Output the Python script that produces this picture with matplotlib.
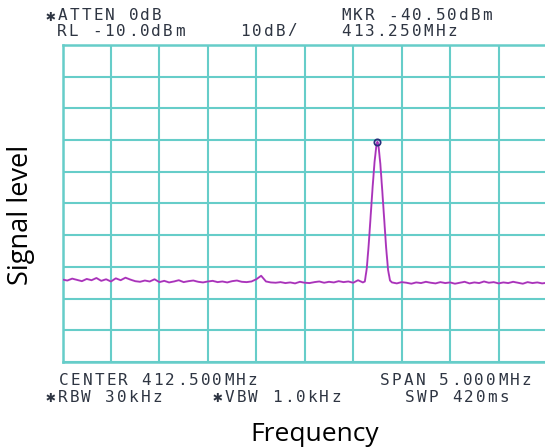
import numpy as np
import matplotlib
matplotlib.use("Agg")
import matplotlib.pyplot as plt


# display settings of the analyzer
ref_level = -10.0      # dBm, top of graticule
db_per_div = 10.0
center_mhz = 412.5
span_mhz = 5.0
marker_freq = 413.25
marker_level = -40.50

# sweep levels (dBm), 0.05 MHz steps from 410.00 to 413.10
left_levels = [
	-84.0, -84.3, -83.7, -84.1, -84.5, -83.8, -84.2, -83.5, -84.4, -83.9, -84.6,
	-83.6, -84.2, -83.4, -84.0, -84.5, -84.7, -84.3, -84.6, -83.9, -84.8,
	-84.4, -84.9, -84.6, -84.2, -84.8, -84.5, -84.3, -84.7, -84.9, -84.6,
	-84.4, -84.8, -84.6, -84.9, -84.5, -84.3, -84.7, -84.8, -84.6, -83.9,
	-82.8, -84.6, -84.9, -85.0, -84.8, -85.1, -84.9, -85.2, -84.7, -85.0,
	-85.1, -84.8, -84.6, -85.0, -84.7, -84.9, -84.5, -84.8, -84.6, -85.0, -84.2, -84.9,
]

# carrier around the marker
peak_freqs = [413.12, 413.14, 413.16, 413.18, 413.20, 413.22, 413.24, 413.25,
	413.26, 413.28, 413.30, 413.32, 413.34, 413.36, 413.38]
peak_levels = [-84.6, -80.5, -73.0, -64.0, -55.0, -47.0, -41.5, -40.5,
	-41.5, -47.5, -56.0, -65.0, -74.0, -81.0, -84.3]

# sweep levels (dBm), 0.05 MHz steps from 413.40 to 415.00
right_levels = [
	-84.9, -85.2, -84.8, -85.0, -85.3, -84.9, -85.1, -84.7, -85.0, -85.2, -84.8,
	-85.1, -84.9, -85.3, -85.0, -84.7, -85.2, -84.9, -85.1, -84.6, -85.0,
	-84.8, -85.2, -84.9, -85.1, -84.7, -85.0, -85.3, -84.8, -85.1, -84.9, -85.2, -85.0,
]

header_lines = [
	(46, 16, "\u2731ATTEN 0dB"),
	(57, 31, "RL -10.0dBm"),
	(240, 31, "10dB/"),
	(341, 16, "MKR -40.50dBm"),
	(341, 31, "413.250MHz"),
	(59, 380, "CENTER 412.500MHz"),
	(380, 380, "SPAN 5.000MHz"),
	(46, 397, "\u2731RBW 30kHz"),
	(213, 397, "\u2731VBW 1.0kHz"),
	(405, 397, "SWP 420ms"),
]

W, H = 545, 448
grid_color = "#66cdc9"
trace_color = "#bb3cc6"
text_color = "#2e3542"

fig = plt.figure(figsize=(W / 100, H / 100), dpi=100)
fig.patch.set_facecolor("white")

# graticule box in pixels: x 62.5..547, y 45..362
x0, x1, y0, y1 = 62.5, 547.0, 45.0, 362.0
ax = fig.add_axes([x0 / W, 1 - y1 / H, (x1 - x0) / W, (y1 - y0) / H])

f_lo = center_mhz - span_mhz / 2
f_hi = center_mhz + span_mhz / 2
ax.set_xlim(f_lo, f_hi)
ax.set_ylim(ref_level - 10 * db_per_div, ref_level)
ax.set_xticks(np.linspace(f_lo, f_hi, 11))
ax.set_yticks(np.linspace(ref_level - 10 * db_per_div, ref_level, 11))
ax.tick_params(length=0, labelbottom=False, labelleft=False)
ax.grid(True, color=grid_color, linewidth=1.5)
for s in ax.spines.values():
	s.set_color(grid_color)
	s.set_linewidth(1.8)

left_freqs = np.linspace(410.0, 413.1, len(left_levels))
right_freqs = np.linspace(413.4, 415.0, len(right_levels))
freqs = np.concatenate([left_freqs, peak_freqs, right_freqs])
levels = np.concatenate([left_levels, peak_levels, right_levels])

ax.plot(freqs, levels, color=trace_color, linewidth=1.4, zorder=3)
ax.plot(freqs, levels, color="#5a2a8a", linewidth=0.4, alpha=0.45, zorder=4)
ax.plot([marker_freq], [marker_level], marker="o", ms=4.5, mfc="none",
	mec="#27307a", mew=1.3, zorder=5)


def draw_mono(px, py, s, pitch=11.8):
	# fixed character pitch like the analyzer screen font
	for i, ch in enumerate(s):
		fig.text((px + i * pitch) / W, 1 - py / H, ch, ha="left", va="center",
			color=text_color, fontsize=11.5,
			family=["DejaVu Sans Mono", "DejaVu Sans"])


for px, py, s in header_lines:
	draw_mono(px, py, s)

fig.text(315 / W, 1 - 434 / H, "Frequency", ha="center", va="center",
	fontsize=19, family="Open Sans", color="black")
fig.text(21 / W, 1 - 215 / H, "Signal level", ha="center", va="center",
	rotation=90, fontsize=19.5, family="Open Sans", color="black")

fig.savefig("out.png", dpi=100)
